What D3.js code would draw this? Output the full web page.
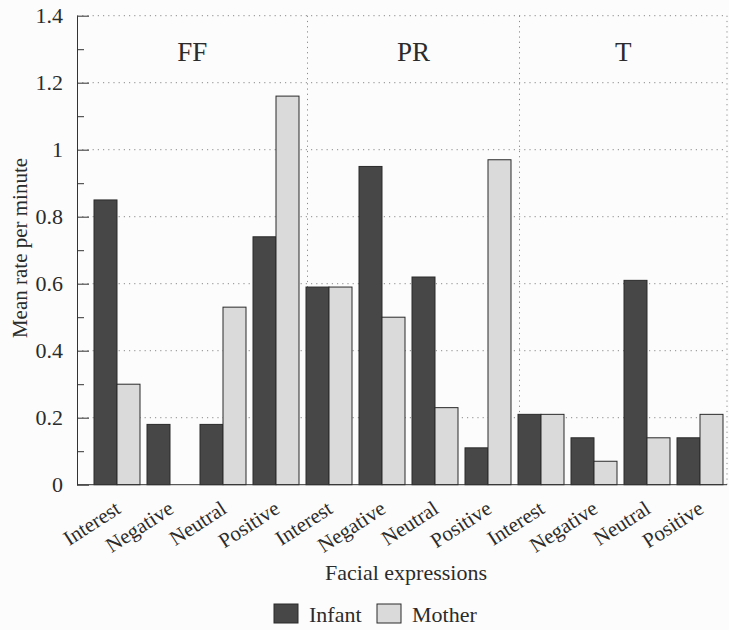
<!DOCTYPE html>
<html>
<head>
<meta charset="utf-8">
<script src="https://cdn.jsdelivr.net/npm/d3@7"></script>
<style>
  body { margin: 0; background: #fcfcfc; }
  svg { display: block; }
</style>
</head>
<body>
<svg id="chart" width="729" height="630"></svg>
<script>
// conditions and facial expression categories
var groups = ["FF", "PR", "T"];
var categories = ["Interest", "Negative", "Neutral", "Positive"];
var series = ["Infant", "Mother"];

// values per group, in category order
var infant = [0.85, 0.18, 0.18, 0.74,  0.59, 0.95, 0.62, 0.11,  0.21, 0.14, 0.61, 0.14];
var mother = [0.30, 0.00, 0.53, 1.16,  0.59, 0.50, 0.23, 0.97,  0.21, 0.07, 0.14, 0.21];

var yMajor = [0, 0.2, 0.4, 0.6, 0.8, 1, 1.2, 1.4];
var yMinor = [0.1, 0.3, 0.5, 0.7, 0.9, 1.1, 1.3];

var serif = "'Liberation Serif', 'Times New Roman', Times, serif";
var ink = "#2b2b2b";

var svg = d3.select("#chart")
  .attr("font-family", serif);
// note: "top" is a read-only window global, so use other names
var plotLeft = 77, plotRight = 727, plotTop = 15.7, plotBottom = 484.7;

var keys = [];
groups.forEach(function(g) {
  categories.forEach(function(c) { keys.push(g + "|" + c); });
});

var data = keys.map(function(k, i) {
  return { key: k, group: k.split("|")[0], cat: k.split("|")[1], Infant: infant[i], Mother: mother[i] };
});

var x0 = d3.scaleBand().domain(keys).range([90.5, 726.5]);
var x1 = d3.scaleBand().domain(series).range([3.5, x0.bandwidth() - 3.5]);
var y = d3.scaleLinear().domain([0, 1.4]).range([plotBottom, plotTop]);
var color = d3.scaleOrdinal().domain(series).range(["#474747", "#dadada"]);

// dotted grid
svg.append("g").selectAll("line")
  .data(yMajor.filter(function(d) { return d > 0; }))
  .enter().append("line")
    .attr("x1", plotLeft).attr("x2", plotRight)
    .attr("y1", function(d) { return y(d); })
    .attr("y2", function(d) { return y(d); })
    .attr("stroke", "#8a8a8a")
    .attr("stroke-dasharray", "1.2,4");

// group separators + right border
var seps = [x0("PR|Interest") + 5, x0("T|Interest") + 5, plotRight];
svg.append("g").selectAll("line")
  .data(seps)
  .enter().append("line")
    .attr("x1", function(d) { return d; }).attr("x2", function(d) { return d; })
    .attr("y1", plotTop).attr("y2", plotBottom)
    .attr("stroke", "#8a8a8a")
    .attr("stroke-dasharray", "1.2,4");

// group titles
var groupBounds = [plotLeft, seps[0], seps[1], plotRight];
svg.append("g").selectAll("text")
  .data(groups)
  .enter().append("text")
    .attr("x", function(d, i) { return (groupBounds[i] + groupBounds[i + 1]) / 2; })
    .attr("y", 61)
    .attr("text-anchor", "middle")
    .attr("font-family", serif)
    .attr("fill", ink)
    .style("font-size", "27px")
    .text(function(d) { return d; });

// bars
var bar = svg.append("g").selectAll("g")
  .data(data)
  .enter().append("g")
    .attr("transform", function(d) { return "translate(" + x0(d.key) + ",0)"; });

bar.selectAll("rect")
  .data(function(d) { return series.map(function(s) { return { s: s, v: d[s] }; }).filter(function(e) { return e.v > 0; }); })
  .enter().append("rect")
    .attr("x", function(d) { return x1(d.s); })
    .attr("y", function(d) { return y(d.v); })
    .attr("width", x1.bandwidth())
    .attr("height", function(d) { return y(0) - y(d.v); })
    .attr("fill", function(d) { return color(d.s); })
    .attr("stroke", "#2a2a2a")
    .attr("stroke-width", 1);

// y axis, ticks pointing inwards
var yAxis = svg.append("g")
  .attr("class", "y axis")
  .attr("transform", "translate(" + plotLeft + ",0)")
  .call(d3.axisLeft(y).tickValues(yMajor).tickSizeInner(-12).tickSizeOuter(0).tickPadding(14)
    .tickFormat(function(d) { return d3.format("~g")(d); }));
yAxis.attr("font-family", serif).attr("font-size", 22);
yAxis.select(".domain").attr("stroke", "#333");
yAxis.selectAll(".tick line").attr("stroke", "#333");
yAxis.selectAll(".tick text").attr("fill", ink);

var yMinorAxis = svg.append("g")
  .attr("transform", "translate(" + plotLeft + ",0)")
  .call(d3.axisLeft(y).tickValues(yMinor).tickSizeInner(-7).tickSizeOuter(0).tickFormat(""));
yMinorAxis.select(".domain").remove();
yMinorAxis.selectAll(".tick line").attr("stroke", "#333");

// x baseline
svg.append("line")
  .attr("x1", plotLeft).attr("x2", plotRight)
  .attr("y1", y(0)).attr("y2", y(0))
  .attr("stroke", "#333");

// rotated category labels
svg.append("g").selectAll("text")
  .data(data)
  .enter().append("text")
    .attr("transform", function(d) {
      return "translate(" + (x0(d.key) + x0.bandwidth() / 2 + 5) + "," + 512 + ") rotate(-33)";
    })
    .attr("text-anchor", "end")
    .attr("font-family", serif)
    .attr("fill", ink)
    .style("font-size", "21px")
    .text(function(d) { return d.cat; });

// axis titles
svg.append("text")
  .attr("x", 406).attr("y", 580)
  .attr("text-anchor", "middle")
  .attr("font-family", serif)
  .attr("fill", ink)
  .style("font-size", "22px")
  .text("Facial expressions");

svg.append("text")
  .attr("transform", "translate(27,248) rotate(-90)")
  .attr("text-anchor", "middle")
  .attr("font-family", serif)
  .attr("fill", ink)
  .style("font-size", "21px")
  .text("Mean rate per minute");

// legend
var legend = svg.append("g").selectAll("g")
  .data(series)
  .enter().append("g")
    .attr("transform", function(d, i) { return "translate(" + [274, 377][i] + ",604)"; });

legend.append("rect")
  .attr("width", 24).attr("height", 19)
  .attr("fill", function(d) { return color(d); })
  .attr("stroke", "#2a2a2a");

legend.append("text")
  .attr("x", 35).attr("y", 18)
  .attr("font-family", serif)
  .attr("fill", ink)
  .style("font-size", "22px")
  .text(function(d) { return d; });
</script>
</body>
</html>
